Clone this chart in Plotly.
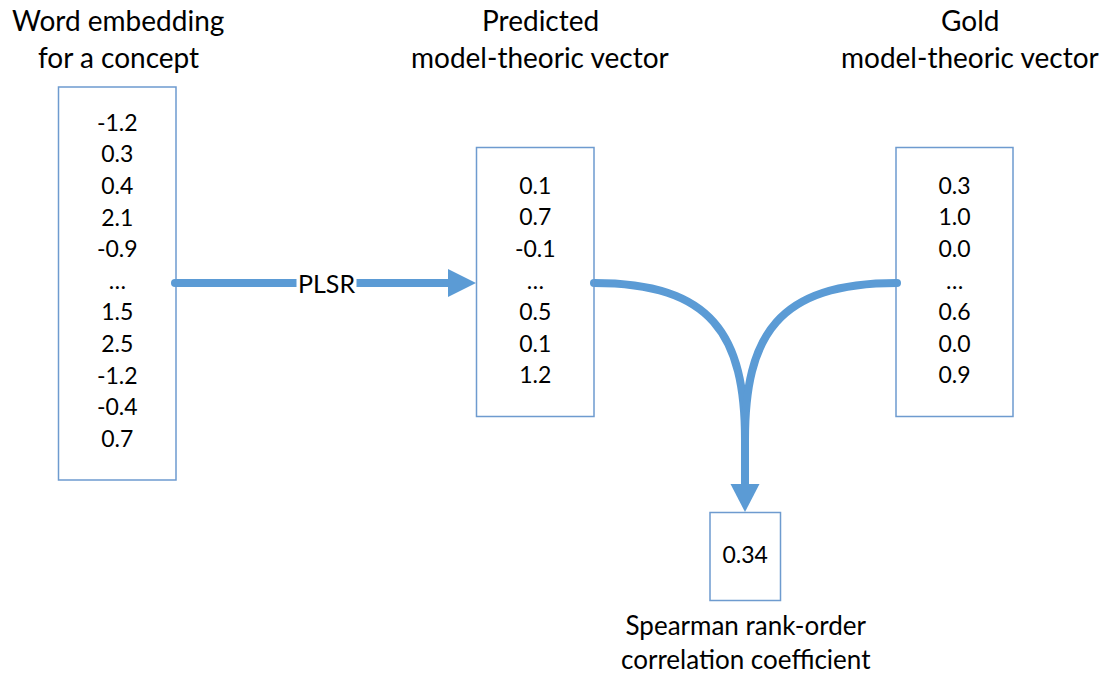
import plotly.graph_objects as go

# ---- data ----
embedding_values = ["-1.2", "0.3", "0.4", "2.1", "-0.9", "…", "1.5", "2.5", "-1.2", "-0.4", "0.7"]
predicted_values = ["0.1", "0.7", "-0.1", "…", "0.5", "0.1", "1.2"]
gold_values = ["0.3", "1.0", "0.0", "…", "0.6", "0.0", "0.9"]
correlation_value = ["0.34"]

title_embedding = ["Word embedding", "for a concept"]
title_predicted = ["Predicted", "model-theoric vector"]
title_gold = ["Gold", "model-theoric vector"]
title_corr = ["Spearman rank-order", "correlation coefficient"]
arrow_label = "PLSR"

# ---- layout geometry (pixel-like coordinates) ----
W, H = 1103, 676
BLUE = "#5B9BD5"
BOX_LINE = "#6E9BCF"
FONT = "Lato, 'Open Sans', sans-serif"
ROW = 31.6

boxes = {
    "emb": dict(x0=58.5, x1=176, y0=87, y1=480, first=125, vals=embedding_values),
    "pred": dict(x0=476.5, x1=594, y0=147.5, y1=416.5, first=188, vals=predicted_values),
    "gold": dict(x0=896, x1=1013, y0=147.5, y1=416.5, first=188, vals=gold_values),
    "corr": dict(x0=710, x1=780.5, y0=512.5, y1=600.5, first=557, vals=correlation_value),
}

fig = go.Figure()
shapes = []

for b in boxes.values():
    shapes.append(dict(type="rect", x0=b["x0"], x1=b["x1"], y0=b["y0"], y1=b["y1"],
                       line=dict(color=BOX_LINE, width=1.5), fillcolor="rgba(0,0,0,0)",
                       xref="x", yref="y", layer="above"))
    cx = (b["x0"] + b["x1"]) / 2
    ys = [b["first"] + i * ROW for i in range(len(b["vals"]))]
    fig.add_trace(go.Scatter(x=[cx] * len(ys), y=ys, text=b["vals"], mode="text",
                             textposition="middle center",
                             textfont=dict(family=FONT, size=23, color="black"),
                             hoverinfo="skip", showlegend=False))

# ---- arrows ----
LW = 8
y_a = 283
shapes.append(dict(type="line", x0=175, x1=450, y0=y_a, y1=y_a, line=dict(color=BLUE, width=LW),
                   xref="x", yref="y"))
shapes.append(dict(type="path", path=f"M 448 {y_a-14} L 476 {y_a} L 448 {y_a+14} Z",
                   fillcolor=BLUE, line=dict(color=BLUE, width=0), xref="x", yref="y"))

xm = 745
shapes.append(dict(type="path", path=f"M 594 {y_a} C 712 {y_a} {xm} 335 {xm} 440 L {xm} 488",
                   line=dict(color=BLUE, width=LW), xref="x", yref="y"))
shapes.append(dict(type="path", path=f"M 897 {y_a} C 778 {y_a} {xm} 335 {xm} 440 L {xm} 488",
                   line=dict(color=BLUE, width=LW), xref="x", yref="y"))
shapes.append(dict(type="path", path=f"M {xm-14.5} 484 L {xm} 512 L {xm+14.5} 484 Z",
                   fillcolor=BLUE, line=dict(color=BLUE, width=0), xref="x", yref="y"))

fig.add_trace(go.Scatter(x=[175, 594, 897], y=[y_a] * 3, mode="markers",
                         marker=dict(color=BLUE, size=LW, line=dict(width=0)),
                         hoverinfo="skip", showlegend=False))

annotations = []
annotations.append(dict(x=326, y=y_a, text=arrow_label, showarrow=False, bgcolor="white",
                        font=dict(family=FONT, size=25, color="black"), borderpad=1,
                        xref="x", yref="y"))


def add_title(lines, cx, ys):
    for t, yy in zip(lines, ys):
        annotations.append(dict(x=cx, y=yy, text=t, showarrow=False, xref="x", yref="y",
                                font=dict(family=FONT, size=28, color="black")))


add_title(title_embedding, 118, [20, 57])
add_title(title_predicted, 540, [20, 57])
add_title(title_gold, 970, [20, 57])
annotations.append(dict(x=746, y=H, text="<br>".join(title_corr), showarrow=False,
                        xref="x", yref="y", yanchor="bottom", align="center", borderpad=0,
                        font=dict(family=FONT, size=26, color="black")))

fig.update_layout(
    width=W, height=H, margin=dict(l=0, r=0, t=0, b=0),
    plot_bgcolor="white", paper_bgcolor="white",
    xaxis=dict(range=[0, W], visible=False, fixedrange=True),
    yaxis=dict(range=[H, 0], visible=False, fixedrange=True),
    shapes=shapes, annotations=annotations, showlegend=False,
)

fig.write_html("out.html", config={"displayModeBar": False},
               post_script="document.body.style.margin='0';")
